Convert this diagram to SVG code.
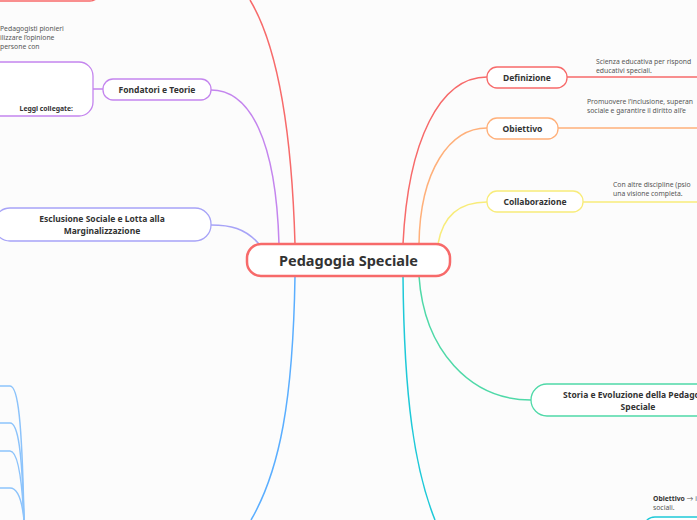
<svg xmlns="http://www.w3.org/2000/svg" width="697" height="520" viewBox="0 0 697 520">
<style>
.bg{fill:#fcfcfc}
.n{fill:#fff;stroke-width:1.3}
.c{fill:none;stroke-width:1.5}
.lbl{font-family:"Noto Sans","Lato",sans-serif;font-weight:700;font-size:8.5px;fill:#333;text-anchor:middle}
.note{font-family:"Noto Sans","Lato",sans-serif;font-size:6.8px;fill:#555}
</style>
<rect class="bg" x="0" y="0" width="697" height="520"/>
<g id="connectors">
  <path class="c" stroke="#f76a6a" d="M295,244 C292,140 280,50 250,0"/>
  <path class="c" stroke="#c485ee" d="M279,244 C276,140 250,90 211,90"/>
  <path class="c" stroke="#c485ee" d="M93,89 H103"/>
  <path class="c" stroke="#a7a3f7" d="M259,244 C245,228 230,225 211,225"/>
  <path class="c" stroke="#5aaeff" d="M295,276 C293,400 280,470 251,520"/>
  <path class="c" stroke="#8cc3fb" d="M0,386 H10 C18,386 22,420 24,520"/>
  <path class="c" stroke="#8cc3fb" d="M0,423 H10 C18,423 22,450 24,520"/>
  <path class="c" stroke="#8cc3fb" d="M0,451 H10 C18,451 22,480 24,520"/>
  <path class="c" stroke="#8cc3fb" d="M0,488 H10 C18,488 22,500 24,520"/>
  <path class="c" stroke="#f76a6a" d="M403,244 C408,140 440,77 487,77"/>
  <path class="c" stroke="#f76a6a" d="M567,77 H697"/>
  <path class="c" stroke="#ffb07a" d="M419,244 C420,170 450,128 487,128"/>
  <path class="c" stroke="#ffb07a" d="M558,128 H697"/>
  <path class="c" stroke="#f8ec7a" d="M438,244 C443,215 460,202 487,202"/>
  <path class="c" stroke="#f8ec7a" d="M583,202 H697"/>
  <path class="c" stroke="#4fd9a8" d="M419,276 C424,350 470,400 531,400"/>
  <path class="c" stroke="#1ec9d8" d="M403,276 C404,400 415,470 435,520"/>
</g>
<g id="n-top">
  <rect class="n" stroke="#f76a6a" x="-20" y="-30" width="120" height="31" rx="10"/>
</g>
<g id="n-central">
  <rect x="247" y="244" width="203" height="32" rx="14" fill="#fff" stroke="#f76a6a" stroke-width="2.5"/>
  <text x="348.5" y="265.5" font-family="Noto Sans, Lato, sans-serif" font-weight="700" font-size="14.5" fill="#333" text-anchor="middle">Pedagogia Speciale</text>
</g>
<g id="n-fondatori">
  <rect class="n" stroke="#c485ee" x="103" y="79" width="108" height="21" rx="10"/>
  <text class="lbl" x="157" y="93">Fondatori e Teorie</text>
</g>
<g id="n-fondatori-box">
  <rect class="n" stroke="#c485ee" x="-20" y="62" width="113" height="54" rx="14"/>
  <text class="note" x="0" y="31">Pedagogisti pionieri</text>
  <text class="note" x="0" y="40">ilizzare l’opinione</text>
  <text class="note" x="0" y="49">persone con</text>
  <text class="lbl" x="73" y="111" style="font-size:6.8px;text-anchor:end">Leggi collegate:</text>
</g>
<g id="n-esclusione">
  <rect class="n" stroke="#a7a3f7" x="-6" y="208" width="217" height="33" rx="16"/>
  <text class="lbl" x="102" y="222">Esclusione Sociale e Lotta alla</text>
  <text class="lbl" x="102" y="234">Marginalizzazione</text>
</g>
<g id="n-definizione">
  <rect class="n" stroke="#f76a6a" x="487" y="67" width="80" height="21" rx="10"/>
  <text class="lbl" x="527" y="81">Definizione</text>
  <text class="note" x="596" y="64">Scienza educativa per rispond</text>
  <text class="note" x="596" y="73">educativi speciali.</text>
</g>
<g id="n-obiettivo">
  <rect class="n" stroke="#ffb07a" x="487" y="118" width="71" height="21" rx="10"/>
  <text class="lbl" x="522.5" y="132">Obiettivo</text>
  <text class="note" x="587" y="104">Promuovere l’inclusione, superan</text>
  <text class="note" x="587" y="113">sociale e garantire il diritto all’e</text>
</g>
<g id="n-collaborazione">
  <rect class="n" stroke="#f8ec7a" x="487" y="191" width="96" height="21" rx="10"/>
  <text class="lbl" x="535" y="205">Collaborazione</text>
  <text class="note" x="613" y="187">Con altre discipline (psio</text>
  <text class="note" x="613" y="196">una visione completa.</text>
</g>
<g id="n-storia">
  <rect class="n" stroke="#4fd9a8" x="531" y="384" width="214" height="32" rx="16"/>
  <text class="lbl" x="638" y="398">Storia e Evoluzione della Pedagogia</text>
  <text class="lbl" x="638" y="410">Speciale</text>
</g>
<g id="n-bottom">
  <rect class="n" stroke="#1ec9d8" x="643" y="517" width="80" height="30" rx="12"/>
  <text class="note" x="653" y="501"><tspan font-weight="700" fill="#333">Obiettivo</tspan> → i</text>
  <text class="note" x="653" y="510">sociali.</text>
</g>
</svg>
